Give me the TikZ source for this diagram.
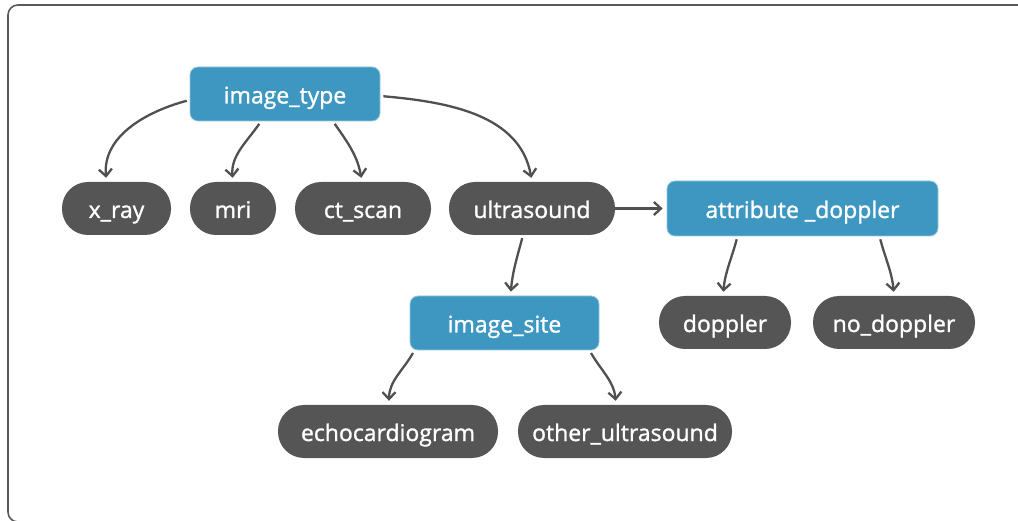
\documentclass[tikz,border=0pt]{standalone}
\usepackage{fontspec}
\setmainfont{Open Sans}
\newfontfamily\lblfont[FakeBold=1.2]{Open Sans}
\usetikzlibrary{arrows.meta,calc}
\definecolor{bluebox}{RGB}{62,151,193}
\definecolor{darkpill}{RGB}{85,85,85}
\definecolor{edgegray}{RGB}{80,80,80}
\definecolor{framegray}{RGB}{90,90,90}
\tikzset{
  lbl/.style={text=white,font=\lblfont\fontsize{23}{27}\selectfont,inner sep=0pt,align=center,
    text height=21pt,text depth=2pt},
  bluebox/.style={lbl,fill=bluebox,draw=bluebox!55!white,line width=0.8pt,rounded corners=8pt,minimum height=54pt},
  pill/.style={lbl,fill=darkpill,rounded corners=26pt,minimum height=53pt},
  conn/.style={draw=edgegray,line width=2.3pt,shorten <=3pt,shorten >=4pt,
    -{Straight Barb[length=7pt,width=13pt,line width=2.3pt]}},
}
\begin{document}
\begin{tikzpicture}[x=1pt,y=1pt]
\useasboundingbox (0,0) rectangle (1018,520);
\draw[framegray,line width=1.6pt,rounded corners=10pt] (8,-2) rectangle (1040,515);

\node[bluebox,minimum width=190pt] (it) at (285,426) {image\_type};
\node[pill,minimum width=109pt] (xr) at (116.5,311.5) {x\_ray};
\node[pill,minimum width=86pt] (mri) at (233,311.5) {mri};
\node[pill,minimum width=136pt] (ct) at (363,311.5) {ct\_scan};
\node[pill,minimum width=166pt] (us) at (532,311.5) {ultrasound};
\node[bluebox,minimum width=271pt,minimum height=55pt] (ad) at (802.5,311.5) {attribute \_doppler};
\node[bluebox,minimum width=189pt] (is) at (504.5,197) {image\_site};
\node[pill,minimum width=132pt] (dp) at (725,197.5) {doppler};
\node[pill,minimum width=162pt] (nd) at (894,197.5) {no\_doppler};
\node[pill,minimum width=220pt] (ec) at (388,88.5) {echocardiogram};
\node[pill,minimum width=214pt] (ou) at (625,88.5) {other\_ultrasound};

\draw[conn] ([yshift=-6pt]it.west) to[out=195,in=95] ([xshift=-10pt]xr.north);
\draw[conn] ([xshift=-24pt]it.south) to[out=235,in=95] (mri.north);
\draw[conn] ([xshift=48pt]it.south) to[out=-55,in=100] ([xshift=-1pt]ct.north);
\draw[conn] ([yshift=-2pt]it.east) to[out=-5,in=100] (us.north);
\draw[conn,shorten <=0pt] (us.east) -- (ad.west);
\draw[conn] ([xshift=-9pt]us.south) to[out=-105,in=85] ([xshift=6pt]is.north);
\draw[conn] ([xshift=-65pt]ad.south) to[out=-105,in=85] ([xshift=-2pt]dp.north);
\draw[conn] ([xshift=77pt]ad.south) to[out=-75,in=95] (nd.north);
\draw[conn] ([xshift=-90pt]is.south) to[out=-120,in=90] ([xshift=1pt]ec.north);
\draw[conn] ([xshift=85pt]is.south) to[out=-60,in=95] ([xshift=-9pt]ou.north);
\end{tikzpicture}
\end{document}
